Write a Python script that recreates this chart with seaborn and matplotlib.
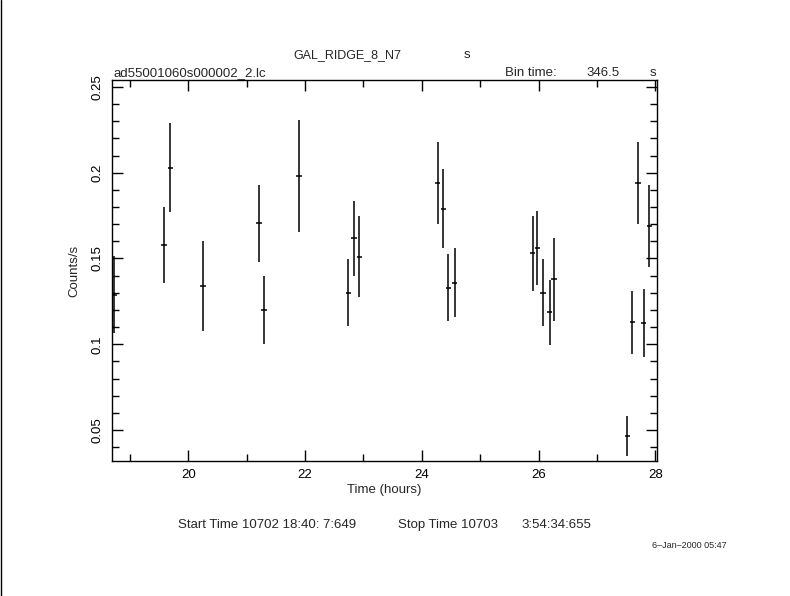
import numpy as np
import pandas as pd
import matplotlib
matplotlib.use("Agg")
import matplotlib.pyplot as plt
import seaborn as sns
from matplotlib.ticker import MultipleLocator

# light curve values
time_h = [18.72, 19.58, 19.69, 20.25, 21.21, 21.30, 21.89, 22.74, 22.84, 22.93,
          24.27, 24.37, 24.455, 24.56, 25.90, 25.98, 26.08, 26.19, 26.27,
          27.525, 27.61, 27.71, 27.80, 27.90]
rate = [0.129, 0.158, 0.203, 0.134, 0.1705, 0.120, 0.198, 0.130, 0.1617, 0.151,
        0.194, 0.179, 0.133, 0.136, 0.153, 0.156, 0.130, 0.1187, 0.1378,
        0.0464, 0.1129, 0.194, 0.1123, 0.169]
rate_err = [0.0225, 0.022, 0.0258, 0.0264, 0.0223, 0.0196, 0.0326, 0.0195, 0.0218, 0.0235,
            0.0238, 0.023, 0.0197, 0.020, 0.022, 0.0215, 0.0195, 0.0189, 0.024,
            0.0116, 0.0184, 0.0238, 0.0197, 0.0238]
half_bin = 346.5 / 2 / 3600.0

df = pd.DataFrame({"time": time_h, "rate": rate, "err": rate_err})

sns.set_style("white")
plt.rcParams['font.family'] = ['Liberation Sans', 'DejaVu Sans']
fs = 9.5

fig = plt.figure(figsize=(7.9, 5.96), dpi=100)
ax = fig.add_axes([0.1418, 0.2265, 0.6898, 0.6393])

ax.errorbar(df["time"], df["rate"], yerr=df["err"], xerr=half_bin,
            fmt="none", ecolor="black", elinewidth=1.1, capsize=0)

ax.set_xlim(18.69, 28.03)
ax.set_ylim(0.032, 0.254)
ax.xaxis.set_major_locator(MultipleLocator(2))
ax.xaxis.set_minor_locator(MultipleLocator(1))
ax.yaxis.set_major_locator(MultipleLocator(0.05))
ax.yaxis.set_minor_locator(MultipleLocator(0.01))
ax.tick_params(which="both", direction="in", top=True, right=True, bottom=True, left=True,
               colors="black", labelsize=fs, width=1)
ax.tick_params(which="major", length=8, pad=6)
ax.tick_params(which="minor", length=5)
ax.set_yticks([0.05, 0.1, 0.15, 0.2, 0.25])
ax.set_yticklabels(["0.05", "0.1", "0.15", "0.2", "0.25"], rotation=90, va="center")
for s in ax.spines.values():
    s.set_color("black")
    s.set_linewidth(1)

ax.set_xlabel("Time (hours)", fontsize=fs, labelpad=2)
ax.set_ylabel("Counts/s", fontsize=fs, labelpad=8)

fig.text(347 / 790, 1 - 55 / 596, "GAL_RIDGE_8_N7", fontsize=9, ha="center", va="center")
fig.text(467 / 790, 1 - 55 / 596, "s", fontsize=fs, ha="center", va="center")
fig.text(113 / 790, 1 - 73 / 596, "ad55001060s000002_2.lc", fontsize=fs, ha="left", va="center")
fig.text(505 / 790, 1 - 73 / 596, "Bin time:", fontsize=fs, ha="left", va="center")
fig.text(620 / 790, 1 - 73 / 596, "346.5", fontsize=fs, ha="right", va="center")
fig.text(653 / 790, 1 - 73 / 596, "s", fontsize=fs, ha="center", va="center")
fig.text(178 / 790, 1 - 525 / 596, "Start Time 10702 18:40: 7:649", fontsize=fs, ha="left", va="center")
fig.text(398 / 790, 1 - 525 / 596, "Stop Time 10703", fontsize=fs, ha="left", va="center")
fig.text(591 / 790, 1 - 525 / 596, "3:54:34:655", fontsize=fs, ha="right", va="center")
fig.text(727 / 790, 1 - 545 / 596, "6\u2013Jan\u20132000 05:47", fontsize=6.5, ha="right", va="center")

fig.add_artist(plt.Line2D([0.001, 0.001], [0, 1], color="black", lw=1, transform=fig.transFigure))

fig.savefig("out.png", dpi=100, facecolor="white")
